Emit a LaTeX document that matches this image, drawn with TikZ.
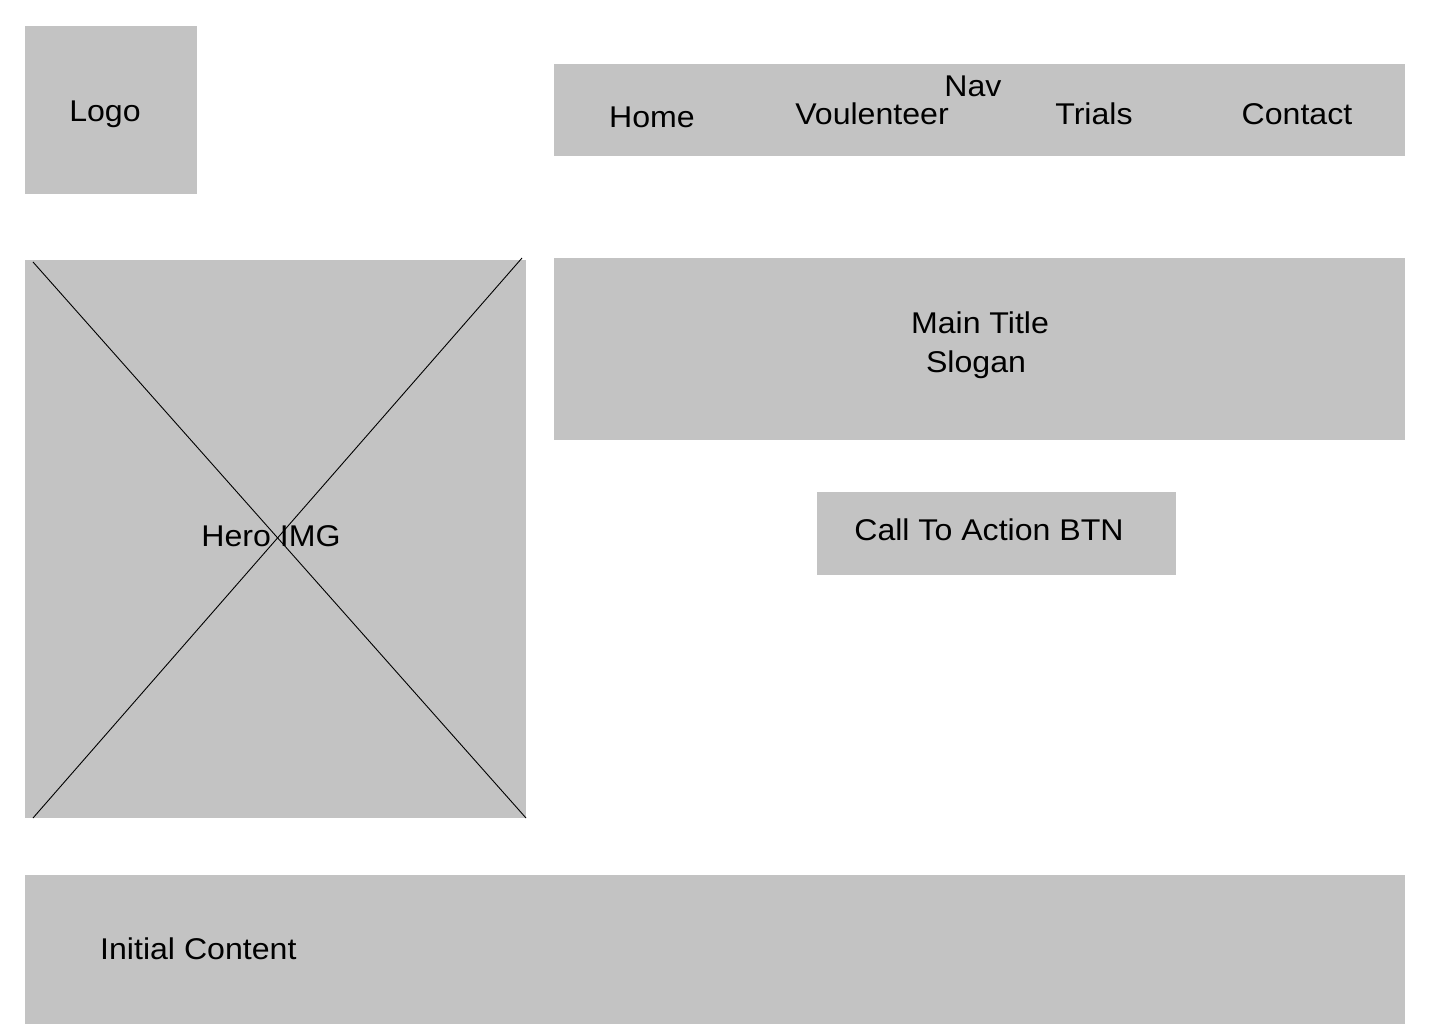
\documentclass[tikz,border=0pt]{standalone}
\usepackage{fontspec}
\setmainfont[FakeStretch=1.07]{Liberation Sans}
\definecolor{boxgray}{HTML}{C3C3C3}
\tikzset{
  box/.style={fill=boxgray, draw=none},
  lbl/.style={font=\fontsize{30}{34}\selectfont, inner sep=0pt, anchor=base, text=black},
  xline/.style={draw=black, line width=0.9pt}
}
\begin{document}
\begin{tikzpicture}[x=1pt,y=-1pt]
\useasboundingbox (0,0) rectangle (1440,1024);
% boxes
\fill[box] (25,26) rectangle (197,194);
\fill[box] (554,64) rectangle (1405,156);
\fill[box] (25,260) rectangle (526,818);
\fill[box] (554,258) rectangle (1405,440);
\fill[box] (817,492) rectangle (1176,575);
\fill[box] (25,875) rectangle (1405,1024);
% hero cross
\coordinate (h1) at (33,262);
\coordinate (h2) at (526,818);
\coordinate (h3) at (33,818);
\coordinate (h4) at (522,258);
\draw[xline] (h1) -- (h2);
\draw[xline] (h3) -- (h4);
% labels
\node[lbl] (logo) at (105,122) {Logo};
\node[lbl] (nav) at (973,97) {Nav};
\node[lbl] (home) at (652,128) {Home};
\node[lbl] (vol) at (872,125) {Voulenteer};
\node[lbl] (trials) at (1094,125) {Trials};
\node[lbl] (contact) at (1297,125) {Contact};
\node[lbl] (title) at (980,334) {Main Title};
\node[lbl] (slogan) at (976,372) {Slogan};
\node[lbl] (cta) at (989,540) {Call To Action BTN};
\node[lbl] (hero) at (271,546) {Hero IMG};
\node[lbl, anchor=base west] (content) at (100,959) {Initial Content};
\end{tikzpicture}
\end{document}
